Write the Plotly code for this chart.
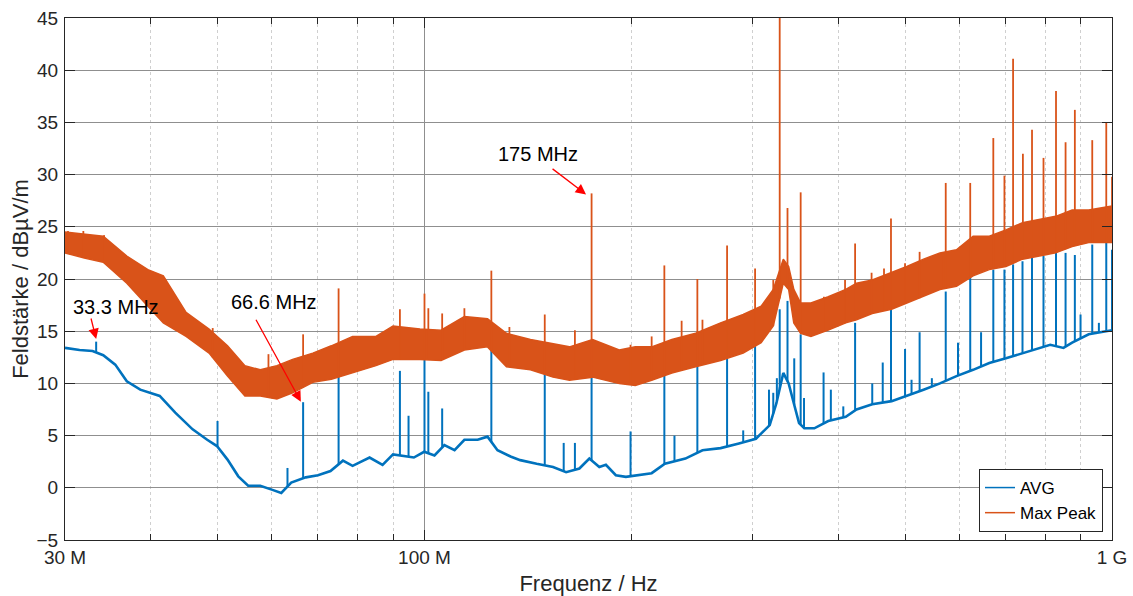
import numpy as np
import plotly.graph_objects as go

# ---------------- data (frequency in MHz, level in dBµV/m) ----------------
avg_freq = [30, 31.5, 32.9, 34.1, 35.5, 36.9, 38.6, 41.2, 43.4, 46.0, 48.3, 49.9, 51.7,
            53.6, 55.4, 57.7, 60.1, 61.9, 64.0, 67.2, 70.0, 73.0, 76.1, 78.6, 83.2, 86.9,
            90.0, 96.5, 99.9, 103.4, 106.9, 110.6, 114.3, 119.5, 123.5, 127.7, 133.4,
            137.8, 145.6, 153.8, 160.7, 168, 173.7, 179.6, 183.6, 189.8, 196.3, 205, 214,
            223.7, 239.6, 253.7, 269.6, 286.7, 303.4, 317.8, 325, 332.6, 338.6, 344.5,
            350.6, 356.8, 369, 386.6, 410, 425, 448, 478, 503, 532, 562, 594, 628, 663,
            701, 741, 783, 813, 850, 875, 925, 1000]
avg_level = [13.4, 13.2, 13.1, 12.7, 11.8, 10.2, 9.4, 8.8, 7.2, 5.6, 4.6, 4.0, 2.7,
             1.1, 0.2, 0.2, -0.2, -0.5, 0.5, 1.0, 1.2, 1.6, 2.6, 2.1, 2.9, 2.2,
             3.2, 2.9, 3.45, 3.1, 4.1, 3.6, 4.6, 4.6, 4.9, 3.6, 3.0,
             2.65, 2.3, 2.0, 1.5, 1.85, 2.8, 2.0, 2.2, 1.2, 1.05, 1.2, 1.4,
             2.3, 2.8, 3.6, 3.8, 4.25, 4.7, 6.0, 8.1, 11.0, 10.0, 8.1,
             6.2, 5.7, 5.7, 6.4, 6.8, 7.5, 8.0, 8.3, 8.8, 9.4, 10.0, 10.7, 11.3, 11.95,
             12.4, 12.9, 13.4, 13.7, 13.4, 13.9, 14.7, 15.1]

avg_spike_freq = [33.3, 50.0, 63.2, 66.6, 75.0, 92.1, 94.8, 100.0, 101.3, 106.1, 125.1,
                  149.6, 159.4, 165.5, 175.0, 199.4, 223.3, 231.0, 249.4, 275.5, 290.8,
                  302.6, 317.0, 321.6, 325.5, 328.6, 337.3, 345.0, 352.5, 356.5, 380.6,
                  390.0, 406.6, 423.0, 448.0, 464.0, 477.0, 500.0, 511.0, 525.0, 547.0,
                  573.0, 597.0, 622.0, 645.0, 672.0, 697.5, 718.0, 741.0, 765.0, 795.0,
                  829.0, 856.0, 883.0, 900.0, 936.0, 957.0, 981.0, 1000.0]
avg_spike_level = [14.0, 6.4, 1.9, 8.2, 11.0, 11.2, 6.9, 12.8, 9.2, 7.6, 13.2,
                   11.3, 4.3, 4.3, 12.2, 5.4, 11.0, 5.0, 12.2, 12.6, 5.5,
                   13.8, 9.4, 9.1, 10.5, 17.1, 17.9, 12.4, 14.7, 8.6, 11.05,
                   9.4, 7.8, 15.8, 10.0, 12.0, 17.1, 13.3, 10.35, 14.9, 10.5,
                   18.8, 13.9, 20.3, 14.9, 20.9, 20.9, 21.4, 21.7, 22.2, 22.2,
                   22.8, 22.5, 22.3, 16.6, 23.3, 15.8, 23.5, 22.8]

peak_freq = [30, 32, 34.1, 36.9, 39.6, 41.7, 45.0, 48.6, 51.7, 54.8, 57.7, 61.0, 64.3,
             68.8, 73.2, 78.6, 85.0, 90, 98.5, 105.7, 114.3, 123.5, 131.6, 142.6, 153.8,
             162.5, 175.6, 192, 202.6, 214, 229, 248, 269.6, 290.8, 308.8, 321.6, 332.6,
             338.6, 344.5, 352.5, 364.8, 386.6, 410, 425, 448, 478, 503, 532, 562, 594,
             628, 663, 701, 741, 783, 828, 875, 925, 1000]
peak_low = [22.5, 22.0, 21.6, 19.6, 17.4, 15.8, 14.5, 12.9, 10.7, 8.8, 8.8, 8.5, 9.1,
            10.1, 10.4, 11.0, 11.7, 12.3, 12.3, 12.2, 13.2, 13.5, 11.6, 11.3, 10.6,
            10.3, 10.6, 10.0, 9.8, 10.3, 11.0, 11.6, 12.2, 12.9, 13.9, 15.5, 19.6,
            19.0, 15.8, 14.8, 14.5, 15.1, 15.8, 16.1, 16.7, 17.1, 17.7, 18.3, 19.0, 19.3,
            20.3, 20.9, 21.2, 21.9, 22.2, 22.5, 23.1, 23.5, 23.5]
peak_high = [24.5, 24.3, 24.1, 22.2, 20.9, 20.3, 16.8, 15.2, 13.6, 11.7, 11.3, 11.7, 12.3,
             12.9, 13.6, 14.5, 14.5, 15.5, 15.2, 15.1, 16.4, 16.2, 14.8, 14.2, 13.8,
             13.5, 14.2, 13.2, 13.5, 13.5, 14.2, 14.8, 15.8, 16.6, 17.4, 19.0, 21.9,
             21.2, 19.0, 17.7, 17.7, 18.3, 19.0, 19.6, 19.9, 20.6, 21.2, 21.9, 22.5, 22.8,
             24.1, 24.1, 24.7, 25.4, 25.7, 26.0, 26.6, 26.6, 27.0]

peak_spike_freq = [30.3, 31.9, 34.2, 49.2, 59.3, 66.6, 75.0, 92.1, 100.0, 101.3, 106.1,
                   114.3, 125.1, 132.9, 149.6, 165.5, 175.0, 199.4, 214.0, 223.3, 236.6,
                   249.4, 253.7, 275.5, 302.6, 321.6, 328.6, 337.3, 352.5, 381.0, 409.0,
                   423.0, 447.0, 466.0, 477.0, 500.0, 525.0, 566.0, 573.0, 622.0, 672.0,
                   697.5, 718.0, 742.0, 765.0, 795.0, 829.0, 856.0, 883.0, 936.0, 981.0,
                   1000.0]
peak_spike_level = [24.6, 24.6, 24.2, 15.3, 12.8, 14.7, 19.1, 17.1, 18.6, 17.2, 16.7,
                    17.2, 20.8, 15.4, 16.6, 15.1, 28.2, 13.7, 14.5, 21.3, 16.0,
                    20.0, 16.1, 23.2, 21.0, 19.9, 46.0, 26.8, 28.3, 18.3, 19.9,
                    23.4, 20.6, 21.0, 25.8, 21.5, 22.6, 22.2, 29.2, 29.2, 33.5,
                    29.9, 41.1, 32.0, 34.3, 31.6, 38.0, 33.1, 36.2, 33.3, 35.0,
                    29.8]

x_tick_vals = [30, 100, 1000]
x_tick_text = ["30 M", "100 M", "1 G"]
x_minor_vals = [40, 50, 60, 70, 80, 90, 200, 300, 400, 500, 600, 700, 800, 900]
y_tick_vals = [-5, 0, 5, 10, 15, 20, 25, 30, 35, 40, 45]

marker_labels = ["33.3 MHz", "66.6 MHz", "175 MHz"]
marker_freq = [33.3, 66.1, 171.8]
marker_level = [14.25, 8.25, 28.1]

# ---------------- helpers ----------------
BLUE = "#0072BD"
ORANGE = "#D95319"
FONT = "Liberation Sans, Arial, sans-serif"


def spike_segments(freqs, levels, base_f, base_v):
    lf = np.log10(base_f)
    xs, ys = [], []
    for f, v in zip(freqs, levels):
        b = float(np.interp(np.log10(f), lf, base_v))
        xs += [f, f, None]
        ys += [b, v, None]
    return xs, ys


sx_a, sy_a = spike_segments(avg_spike_freq, avg_spike_level, avg_freq, avg_level)
sx_p, sy_p = spike_segments(peak_spike_freq, peak_spike_level, peak_freq, peak_low)

fig = go.Figure()
fig.add_trace(go.Scatter(x=avg_freq, y=avg_level, mode="lines", showlegend=False,
                         line=dict(color=BLUE, width=2.6)))
fig.add_trace(go.Scatter(x=sx_a, y=sy_a, mode="lines", showlegend=False,
                         line=dict(color=BLUE, width=2)))
fig.add_trace(go.Scatter(x=peak_freq, y=peak_low, mode="lines", showlegend=False,
                         line=dict(color=ORANGE, width=1.5)))
fig.add_trace(go.Scatter(x=peak_freq, y=peak_high, mode="lines", showlegend=False,
                         fill="tonexty", fillcolor=ORANGE,
                         line=dict(color=ORANGE, width=1.5)))
fig.add_trace(go.Scatter(x=sx_p, y=sy_p, mode="lines", showlegend=False,
                         line=dict(color=ORANGE, width=1.8)))
# legend entries
fig.add_trace(go.Scatter(x=[None], y=[None], mode="lines", name="AVG",
                         line=dict(color=BLUE, width=1.5)))
fig.add_trace(go.Scatter(x=[None], y=[None], mode="lines", name="Max Peak",
                         line=dict(color=ORANGE, width=1.5)))

# annotations
text_pos = [(35.6, 17.3), (60.5, 17.8), (146.3, 31.97)]
arrow_off = [(-5.5, -22), (-45.7, -83.4), (-35, -26.7)]
for lab, (tx, ty) in zip(marker_labels, text_pos):
    fig.add_annotation(x=np.log10(tx), y=ty, text=lab, showarrow=False,
                       font=dict(family=FONT, size=20, color="black"))
for f, v, (ax, ay) in zip(marker_freq, marker_level, arrow_off):
    fig.add_annotation(x=np.log10(f), y=v, text="", showarrow=True, ax=ax, ay=ay,
                       arrowhead=2, arrowsize=1.6, arrowwidth=1.3, arrowcolor="red")

axis_common = dict(showline=True, linecolor="#262626", linewidth=1, mirror="ticks",
                   ticks="inside", ticklen=10, tickcolor="#262626",
                   tickfont=dict(family=FONT, size=19, color="#262626"),
                   showgrid=True, gridcolor="#8f8f8f", gridwidth=1, zeroline=False,
                   automargin=False)

fig.update_layout(
    width=1133, height=596,
    margin=dict(l=65, r=21, t=18, b=56, autoexpand=False),
    paper_bgcolor="white", plot_bgcolor="white",
    font=dict(family=FONT, color="#262626"),
    xaxis=dict(type="log", range=[np.log10(30), np.log10(1000)],
               tickmode="array", tickvals=x_tick_vals, ticktext=x_tick_text,
               minor=dict(tickmode="array", tickvals=x_minor_vals, ticks="inside",
                          ticklen=6, tickcolor="#262626", showgrid=True,
                          gridcolor="#cfcfcf", griddash="dot", gridwidth=1),
               title=dict(text="Frequenz / Hz", font=dict(family=FONT, size=22, color="#262626"),
                          standoff=9),
               **axis_common),
    yaxis=dict(range=[-5, 45], tickmode="array", tickvals=y_tick_vals,
               title=dict(text="Feldstärke / dBµV/m", font=dict(family=FONT, size=22, color="#262626"),
                          standoff=1),
               ticklabelstandoff=2,
               **axis_common),
    legend=dict(x=0.9914, y=0.0153, xanchor="right", yanchor="bottom",
                bgcolor="white", bordercolor="#262626", borderwidth=1,
                font=dict(family=FONT, size=17, color="black"),
                itemwidth=30, tracegroupgap=0, traceorder="normal"),
    showlegend=True,
)

fig.write_html("out.html", config={"displayModeBar": False},
               post_script="document.body.style.margin='0px';document.body.style.overflow='hidden';")
